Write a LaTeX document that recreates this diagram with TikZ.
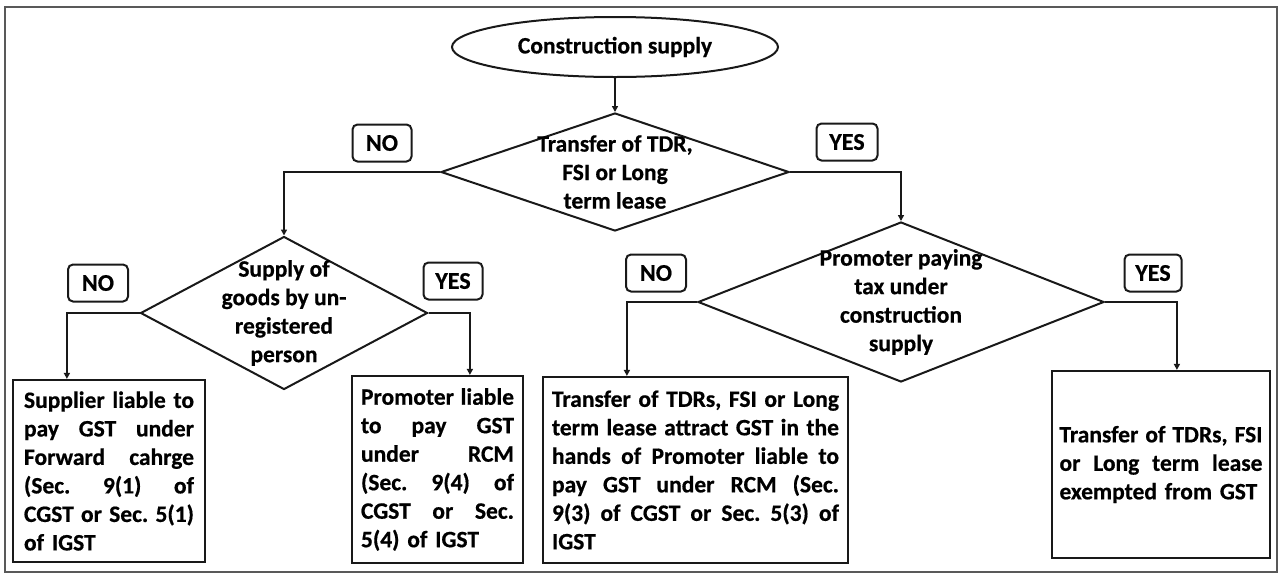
\documentclass[tikz,border=0pt]{standalone}
\usepackage{fontspec}
\setmainfont{Carlito}[BoldFeatures={FakeBold=0.6}]
\usetikzlibrary{shapes.geometric,arrows.meta}
\newlength\bw
\newcommand\jl[1]{\makebox[\bw][l]{#1}\\}
\begin{document}
\begin{tikzpicture}[x=1pt,y=-1pt,
  every node/.style={font=\fontsize{23.5}{28.5}\selectfont\bfseries, text=black},
  dia/.style={shape=diamond, draw=black!90, line width=2pt, inner sep=0pt},
  box/.style={draw=black!90, line width=2.2pt, align=left, inner ysep=0pt},
  tag/.style={draw=black!90, rounded corners=5pt, line width=2pt, minimum height=37pt, inner sep=0pt, font=\fontsize{24}{28}\selectfont\bfseries},
  arr/.style={draw=black!90, line width=1.8pt, -{Triangle[length=6pt,width=6pt]}}
]
\useasboundingbox (0,0) rectangle (1280,574);
\draw[line width=2.5pt, black!65] (5,7) rectangle (1277,572);

\node[ellipse, draw=black!90, line width=2pt, minimum width=326pt, minimum height=60pt, inner sep=0pt] (start) at (615,47) {Construction supply};

\node[dia, minimum width=348pt, minimum height=118pt] (d1) at (615,172) {};
\node[align=center] (t1) at (d1.center) {Transfer of TDR,\\FSI or Long\\term lease};

\node[dia, minimum width=287pt, minimum height=153pt] (d2) at (284,313) {};
\node[align=center] (t2) at (d2.center) {Supply of\\goods by un-\\registered\\person};

\node[dia, minimum width=406pt, minimum height=160pt] (d3) at (901,302) {};
\node[align=center] (t3) at (d3.center) {Promoter paying\\tax under\\construction\\supply};

\node[box, text width=170pt, inner xsep=11pt, minimum height=182pt] (b1) at (109,471) {%
\setlength\bw{170pt}%
\jl{Supplier\hfill liable\hfill to}
\jl{pay\hfill GST\hfill under}
\jl{Forward\hfill cahrge}
\jl{(Sec.\hfill 9(1)\hfill of}
\jl{CGST\hfill or\hfill Sec.\hfill 5(1)}
of IGST};

\node[box, text width=153pt, inner xsep=9pt, minimum height=187pt] (b2) at (437.5,469.5) {%
\setlength\bw{153pt}%
\jl{Promoter\hfill liable}
\jl{to\hfill pay\hfill GST}
\jl{under\hfill RCM}
\jl{(Sec.\hfill 9(4)\hfill of}
\jl{CGST\hfill or\hfill Sec.}
5(4) of IGST};

\node[box, text width=287pt, inner xsep=9pt, minimum height=186pt] (b3) at (695.5,470) {%
\setlength\bw{287pt}%
\jl{Transfer\hfill of\hfill TDRs,\hfill FSI\hfill or\hfill Long}
\jl{term\hfill lease\hfill attract\hfill GST\hfill in\hfill the}
\jl{hands\hfill of\hfill Promoter\hfill liable\hfill to}
\jl{pay\hfill GST\hfill under\hfill RCM\hfill (Sec.}
\jl{9(3)\hfill of\hfill CGST\hfill or\hfill Sec.\hfill 5(3)\hfill of}
IGST};

\node[box, text width=203pt, inner xsep=7.5pt, minimum height=187pt] (b4) at (1161,464.5) {%
\setlength\bw{203pt}%
\jl{Transfer\hfill of\hfill TDRs,\hfill FSI}
\jl{or\hfill Long\hfill term\hfill lease}
exempted from GST};

\node[tag, minimum width=59pt] (no1) at (382,143) {NO};
\node[tag, minimum width=61pt] (yes1) at (847,142) {YES};
\node[tag, minimum width=60pt] (no2) at (98,283) {NO};
\node[tag, minimum width=59pt] (yes2) at (453,281) {YES};
\node[tag, minimum width=60pt] (no3) at (656,273) {NO};
\node[tag, minimum width=57pt] (yes3) at (1153,273) {YES};

\draw[arr] (start.south) -- (d1.north);
\draw[arr] (d1.west) -| (d2.north);
\draw[arr] (d1.east) -| (d3.north);
\draw[arr] (d2.west) -| ([xshift=55pt]b1.north west);
\draw[arr] (d2.east) -| ([xshift=119pt]b2.north west);
\draw[arr] (d3.west) -| ([xshift=85pt]b3.north west);
\draw[arr] (d3.east) -| ([xshift=126pt]b4.north west);
\end{tikzpicture}
\end{document}
